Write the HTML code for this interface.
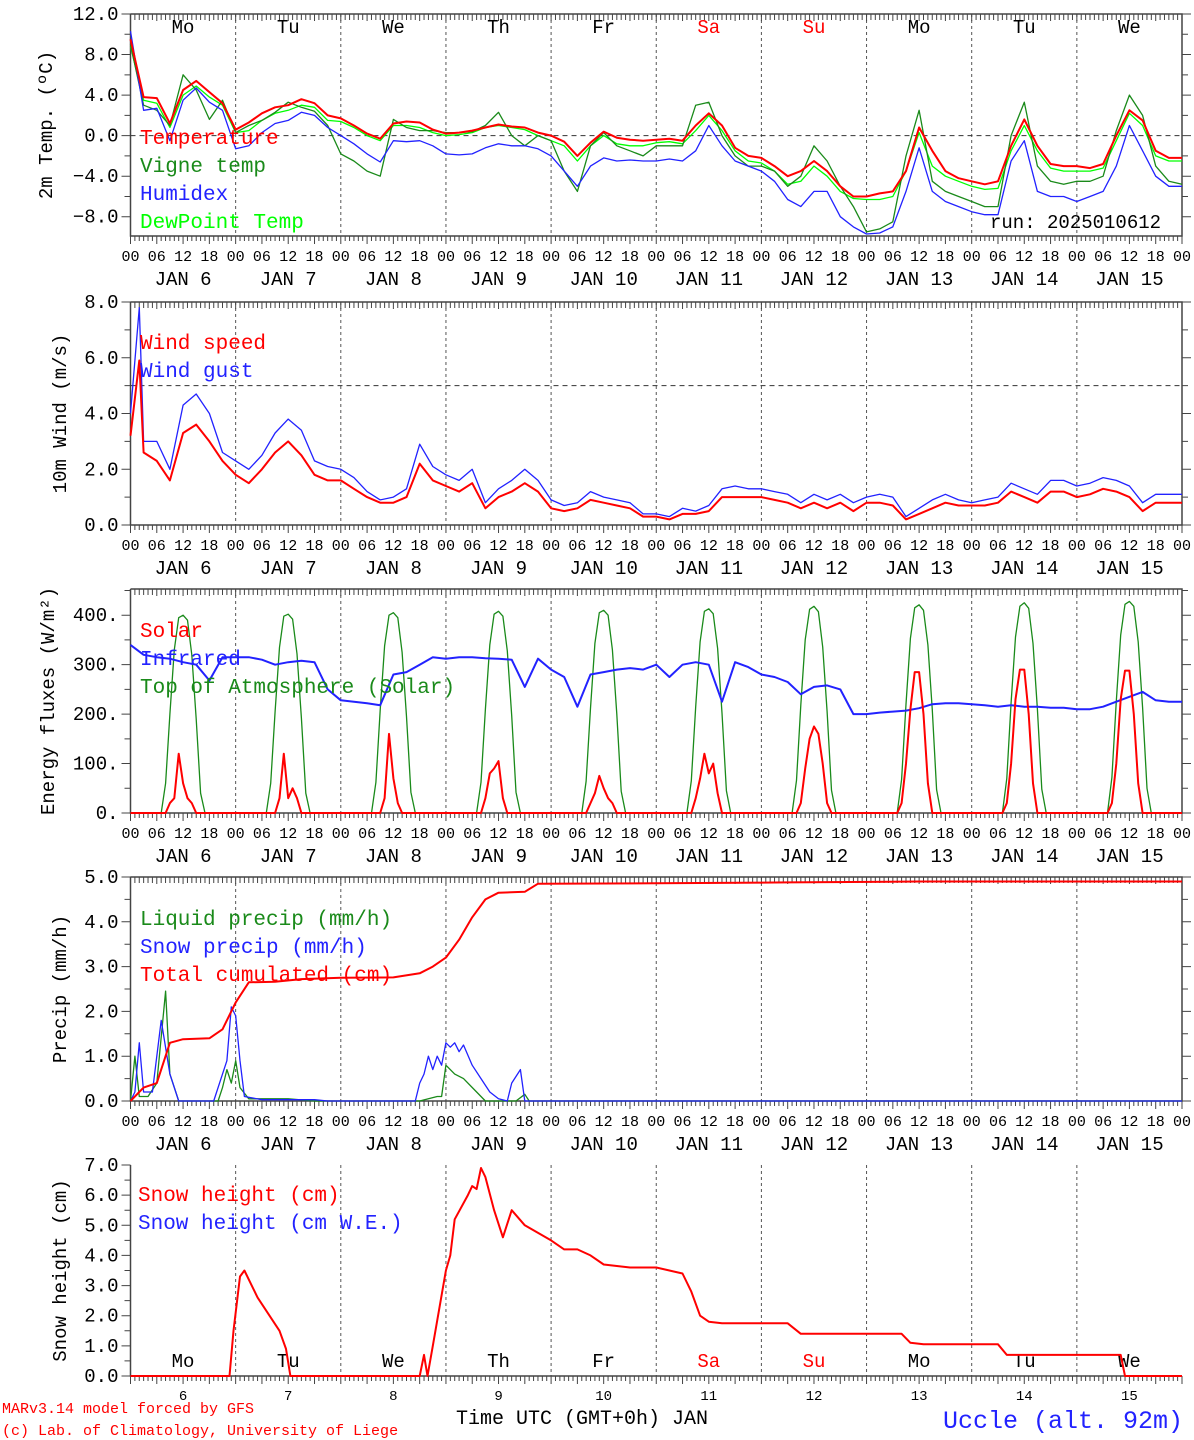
<!DOCTYPE html>
<html><head><meta charset="utf-8">
<style>
html,body{margin:0;padding:0;background:#fff;}
svg{display:block;font-family:"Liberation Mono","DejaVu Sans Mono",monospace;}
</style></head>
<body>
<svg id="chart" width="1194" height="1440" viewBox="0 0 1194 1440" xmlns="http://www.w3.org/2000/svg">
<text x="2" y="1413" font-size="15" fill="#f00">MARv3.14 model forced by GFS</text>
<text x="2" y="1435" font-size="15" fill="#f00">(c) Lab. of Climatology, University of Liege</text>
<text x="456" y="1424" font-size="20" fill="#000">Time UTC (GMT+0h) JAN</text>
<text x="943" y="1428" font-size="25" fill="#22f">Uccle (alt. 92m)</text>
<text x="990" y="228" font-size="19" fill="#000">run: 2025010612</text>
</svg>
<script>
// ---------- DATA ----------
const dayNames = ["Mo","Tu","We","Th","Fr","Sa","Su","Mo","Tu","We"];
const dayNums = [6,7,8,9,10,11,12,13,14,15];
const hourTicks = ["00","06","12","18"];
// 3-hourly series (81 points, hour 0..240)
const temperature = [9.5,3.8,3.7,1.2,4.5,5.4,4.3,3.2, 0.6,1.3,2.2,2.8,3.0,3.6,3.2,2.0, 1.7,1.0,0.2,-0.3,1.2,1.4,1.3,0.6, 0.2,0.3,0.5,0.8,1.1,0.9,0.8,0.3, 0.0,-0.6,-2.0,-0.7,0.4,-0.2,-0.4,-0.5, -0.4,-0.3,-0.5,1.0,2.2,1.0,-1.2,-2.0, -2.2,-3.0,-4.0,-3.5,-2.5,-3.5,-5.0,-6.0, -6.0,-5.7,-5.5,-3.5,0.8,-1.5,-3.5,-4.2, -4.5,-4.8,-4.5,-1.0,1.6,-1.0,-2.8,-3.0, -3.0,-3.2,-2.8,0.0,2.5,1.5,-1.5,-2.2,-2.2];
const vigneTemp = [9.0,3.0,2.5,1.0,6.0,4.5,1.6,3.5, 0.3,1.0,1.5,2.3,3.3,2.8,2.4,1.0, -1.8,-2.5,-3.5,-4.0,1.6,0.8,0.5,0.5, 0.3,0.3,0.4,1.0,2.3,0.0,-1.0,0.0, -0.5,-3.5,-5.5,-1.0,0.3,-1.0,-1.5,-2.0, -1.0,-1.0,-1.0,3.0,3.3,0.0,-2.0,-3.0, -3.0,-3.5,-5.0,-4.0,-1.0,-2.5,-5.0,-7.0, -9.5,-9.2,-8.5,-2.0,2.5,-4.5,-5.5,-6.0, -6.5,-7.0,-7.0,0.0,3.3,-3.0,-4.5,-4.8, -4.5,-4.5,-4.0,0.5,4.0,2.0,-3.0,-4.5,-4.8];
const humidex = [10.3,2.5,2.7,-0.5,3.5,4.7,3.3,2.5, -1.3,-1.0,0.3,1.2,1.5,2.3,2.0,0.8, 0.0,-0.8,-1.8,-2.6,-0.5,-0.6,-0.5,-1.0, -1.8,-1.9,-1.8,-1.2,-0.8,-1.0,-1.0,-1.3, -2.0,-3.5,-5.0,-3.0,-2.2,-2.5,-2.4,-2.5, -2.5,-2.3,-2.5,-1.5,1.0,-1.0,-2.5,-3.0, -3.5,-4.5,-6.3,-7.0,-5.5,-5.5,-8.0,-9.0, -9.7,-9.6,-9.0,-5.5,-1.2,-5.5,-6.5,-7.0, -7.5,-7.8,-7.8,-2.5,-0.5,-5.5,-6.0,-6.0, -6.5,-6.0,-5.5,-3.0,1.0,-1.5,-4.0,-5.0,-5.0];
const dewPoint = [8.8,3.5,3.2,0.8,4.0,4.9,3.8,3.0, 0.3,0.5,1.5,2.2,2.5,3.0,2.8,1.5, 1.4,0.8,0.0,-0.5,1.0,1.0,0.8,0.3, 0.0,0.1,0.3,0.8,1.0,0.8,0.6,0.0, -0.5,-1.0,-2.5,-1.0,0.0,-0.8,-1.0,-1.0, -0.7,-0.6,-0.8,0.5,2.0,0.5,-1.5,-2.5, -2.7,-3.5,-4.8,-4.5,-3.0,-4.0,-5.5,-6.2, -6.3,-6.3,-6.0,-3.5,0.3,-3.0,-4.0,-4.5, -5.0,-5.3,-5.2,-1.5,1.0,-1.5,-3.2,-3.5, -3.5,-3.5,-3.2,-0.5,2.2,1.0,-2.0,-2.5,-2.5];
const windSpeed = [3.2,2.6,2.3,1.6,3.3,3.6,3.0,2.3, 1.8,1.5,2.0,2.6,3.0,2.5,1.8,1.6, 1.6,1.3,1.0,0.8,0.8,1.0,2.2,1.6, 1.4,1.2,1.5,0.6,1.0,1.2,1.5,1.2, 0.6,0.5,0.6,0.9,0.8,0.7,0.6,0.3, 0.3,0.2,0.4,0.4,0.5,1.0,1.0,1.0, 1.0,0.9,0.8,0.6,0.8,0.6,0.8,0.5, 0.8,0.8,0.7,0.2,0.4,0.6,0.8,0.7, 0.7,0.7,0.8,1.2,1.0,0.8,1.2,1.2, 1.0,1.1,1.3,1.2,1.0,0.5,0.8,0.8,0.8];
const windGust = [4.0,3.0,3.0,2.0,4.3,4.7,4.0,2.6, 2.3,2.0,2.5,3.3,3.8,3.4,2.3,2.1, 2.0,1.7,1.2,0.9,1.0,1.3,2.9,2.1, 1.8,1.6,2.0,0.8,1.3,1.6,2.0,1.6, 0.9,0.7,0.8,1.2,1.0,0.9,0.8,0.4, 0.4,0.3,0.6,0.5,0.7,1.3,1.4,1.3, 1.3,1.2,1.1,0.8,1.1,0.9,1.1,0.8, 1.0,1.1,1.0,0.3,0.6,0.9,1.1,0.9, 0.8,0.9,1.0,1.5,1.3,1.1,1.6,1.6, 1.4,1.5,1.7,1.6,1.4,0.8,1.1,1.1,1.1];
const windSpeedPeak = [2, 5.9];
const windGustPeak = [2, 7.8];
const infrared = [340,320,315,312,305,300,268,315, 315,315,310,300,305,308,305,250, 228,225,222,218,280,285,300,315, 312,315,315,313,312,310,255,312, 290,275,215,280,285,290,293,290, 300,275,300,305,300,225,305,295, 280,275,265,240,255,258,250,200, 200,203,205,207,212,220,222,222, 220,218,215,218,215,215,213,213, 210,210,215,225,235,245,228,225,225];
// hourly solar values, hours 7..17 of each day
const toaSolar = [
 [0,60,200,330,395,400,390,320,190,40,0],[0,60,205,335,398,402,392,322,192,40,0],[0,62,208,338,400,405,395,325,195,42,0],
 [0,62,210,340,402,408,398,328,197,42,0],[0,64,212,343,405,410,400,330,200,44,0],[0,65,215,346,408,413,403,333,202,45,0],
 [0,66,218,350,412,418,407,336,205,46,0],[0,68,220,353,415,421,410,340,208,47,0],[0,70,223,356,418,425,414,343,210,48,0],
 [0,72,226,360,422,428,418,346,213,50,0]];
const solar = [
 [0,0,20,30,120,60,30,20,0,0,0],[0,0,0,30,120,30,50,30,0,0,0],[0,0,0,30,160,70,20,0,0,0,0],
 [0,0,30,80,90,105,30,0,0,0,0],[0,0,20,40,75,50,30,20,0,0,0],[0,0,30,70,120,80,100,40,0,0,0],
 [0,0,20,90,150,175,160,100,20,0,0],[0,20,100,210,285,285,200,60,0,0,0],[0,20,100,230,290,290,200,60,0,0,0],
 [0,20,100,230,288,288,200,60,0,0,0]];
// [hour, value] pairs
const totalCum = [[0,0],[3,0.3],[6,0.4],[9,1.3],[12,1.38],[18,1.4],[21,1.6],[24,2.2],[27,2.65],[33,2.66],[39,2.72],[48,2.75],[60,2.76],[66,2.85],[69,3.0],[72,3.2],[75,3.6],[78,4.1],[81,4.5],[84,4.65],[90,4.67],[93,4.85],[120,4.86],[150,4.88],[180,4.9],[240,4.9]];
const liquidPrecip = [[0,0],[1,1.0],[2,0.1],[4,0.1],[6,0.4],[8,2.45],[9,0.6],[11,0],[20,0],[21,0.3],[22,0.7],[23,0.4],[24,0.9],[25,0.3],[27,0.05],[36,0.05],[42,0],[66,0],[68,0.05],[70,0.1],[71,0.1],[72,0.8],[74,0.6],[76,0.5],[79,0.2],[81,0],[88,0],[90,0.15],[91,0],[240,0]];
const snowPrecip = [[0,0],[1,0.2],[2,1.3],[3,0.2],[5,0.2],[7,1.8],[9,0.6],[11,0],[19,0],[21,0.6],[22,0.9],[23,2.1],[24,1.9],[25,0.9],[26,0.1],[30,0.03],[42,0.03],[45,0],[65,0],[66,0.4],[67,0.6],[68,1.0],[69,0.7],[70,1.0],[71,0.8],[72,1.3],[73,1.2],[74,1.3],[75,1.1],[76,1.25],[78,0.8],[80,0.5],[82,0.2],[84,0.05],[86,0],[87,0.4],[89,0.7],[90,0],[240,0]];
const snowHeight = [[0,0],[22.6,0],[23.5,1.5],[25,3.3],[26,3.5],[29,2.6],[34,1.5],[35.5,0.9],[36.5,0],[66,0],[67,0.7],[67.8,0],[69,1.0],[72,3.5],[73,4.0],[74,5.2],[77,6.0],[78,6.3],[79,6.2],[80,6.9],[81,6.6],[83,5.5],[85,4.6],[87,5.5],[90,5.0],[96,4.5],[99,4.2],[102,4.2],[105,4.0],[108,3.7],[114,3.6],[120,3.6],[123,3.5],[126,3.4],[128,2.8],[130,2.0],[132,1.8],[135,1.75],[150,1.75],[153,1.4],[176,1.4],[178,1.1],[181,1.05],[198,1.05],[200,0.7],[226,0.7],[227,0],[240,0]];

// ---------- DRAW ----------
const svg = document.getElementById('chart');
const NS = 'http://www.w3.org/2000/svg';
const X0 = 130.5, X1 = 1182;
const xs = h => X0 + h * (X1 - X0) / 240;
function mk(tag, attrs, parent) {
  const e = document.createElementNS(NS, tag);
  for (const k in attrs) e.setAttribute(k, attrs[k]);
  (parent || svg).appendChild(e);
  return e;
}
function txt(x, y, s, size, fill, anchor, parent) {
  const t = mk('text', {x: x, y: y, 'font-size': size, fill: fill || '#000', 'text-anchor': anchor || 'start'}, parent);
  t.textContent = s;
  return t;
}
function panel(name, top, bot, vmin, vmax, major, minor, fmt, title, opts) {
  const g = mk('g', {});
  
  
  const ys = v => bot - (v - vmin) * (bot - top) / (vmax - vmin);
  for (let d = 1; d < 10; d++) {
    const l = mk('line', {x1: xs(d * 24), x2: xs(d * 24), y1: top, y2: bot, stroke: '#555', 'stroke-dasharray': '3,3', 'stroke-width': 1}, g);
    
    
  }
  const ax = mk('path', {d: opts.noFrame ? `M${X0},${top}V${bot}H${X1}` : `M${X0},${top}V${bot}H${X1}V${top}H${X0}`, fill: 'none', stroke: '#444', 'stroke-width': 1.5}, g);
  
  
  let tp = '';
  const vstart = Math.ceil(vmin / minor - 1e-6) * minor;
  for (let v = vstart; v <= vmax + 1e-6; v += minor) {
    const isMaj = Math.abs(Math.round(v / major) * major - v) < 1e-6;
    const y = ys(v);
    tp += `M${X0},${y}h${isMaj ? -9 : -6}`;
    if (!opts.noFrame) tp += `M${X1},${y}h${isMaj ? 9 : 6}`;
  }
  for (let h = 0; h <= 240; h++) {
    const x = xs(h);
    tp += `M${x},${bot}v${h % 6 === 0 ? 8 : 5}`;
    if (!opts.noFrame) tp += `M${x},${top}v${h % 6 === 0 ? 7 : 6}`;
  }
  mk('path', {d: tp, stroke: '#444', 'stroke-width': 1, fill: 'none'}, g);
  const mstart = Math.ceil(vmin / major - 1e-6) * major;
  for (let v = mstart; v <= vmax + 1e-6; v += major) {
    const t = txt(X0 - 12, ys(v) + 6, fmt(v), 19, '#000', 'end', g);
    
    
  }
  const yt = txt(0, 0, title, 19, '#000', 'middle', g);
  yt.setAttribute('transform', `translate(${opts.titleX},${(top + bot) / 2}) rotate(-90)`);
  
  
  if (!opts.noFrame) {
    for (let d = 0; d < 10; d++) {
      for (let k = 0; k < 4; k++) {
        const t = txt(xs(d * 24 + k * 6), bot + 25, hourTicks[k], 15, '#000', 'middle', g);
        
        
      }
      const j = txt(xs(d * 24 + 12), bot + 49, 'JAN  ' + dayNums[d], 19, '#000', 'middle', g);
      
      
    }
    const t = txt(xs(240), bot + 25, '00', 15, '#000', 'middle', g);
    
    
  }
  return {g: g, ys: ys};
}
function line3h(p, arr, color, w, name) {
  const pts = arr.map((v, i) => `${xs(i * 3).toFixed(1)},${p.ys(v).toFixed(1)}`).join(' ');
  const l = mk('polyline', {points: pts, fill: 'none', stroke: color, 'stroke-width': w, 'stroke-linejoin': 'round'}, p.g);
  
  
  return l;
}
function linePairs(p, arr, color, w, name) {
  const pts = arr.map(q => `${xs(q[0]).toFixed(1)},${p.ys(q[1]).toFixed(1)}`).join(' ');
  const l = mk('polyline', {points: pts, fill: 'none', stroke: color, 'stroke-width': w, 'stroke-linejoin': 'round'}, p.g);
  
  
  return l;
}
function lineDaily(p, rows, color, w, name) {
  const pts = [];
  pts.push([0, 0]);
  rows.forEach((r, d) => r.forEach((v, k) => pts.push([d * 24 + 7 + k, v])));
  pts.push([240, 0]);
  return linePairs(p, pts, color, w, name);
}
function legend(p, items, x, y0, dy) {
  items.forEach((it, i) => {
    const t = txt(x, y0 + i * dy, it[0], 21, it[1], 'start', p.g);
    
    
  });
}
function hdash(p, v) {
  const l = mk('line', {x1: X0, x2: X1, y1: p.ys(v), y2: p.ys(v), stroke: '#333', 'stroke-dasharray': '5,4', 'stroke-width': 1}, p.g);
  
  
}
const f1 = v => v.toFixed(1).replace('-', '\u2212');

// Panel 1
const p1 = panel('temperature-panel', 14, 236, -9.9, 12, 4, 2, f1, '2m Temp. (\u00baC)', {titleX: 52});
hdash(p1, 0);
dayNames.forEach((n, d) => {
  const t = txt(xs(d * 24 + 12), 33, n, 19, (n === 'Sa' || n === 'Su') ? '#f00' : '#000', 'middle', p1.g);
  
  
});
line3h(p1, dewPoint, '#0f0', 1.3, 'dewpoint-line');
line3h(p1, vigneTemp, '#1a8a1a', 1.3, 'vigne-temp-line');
line3h(p1, humidex, '#22f', 1.3, 'humidex-line');
line3h(p1, temperature, '#f00', 2, 'temperature-line');
legend(p1, [['Temperature', '#f00'], ['Vigne temp', '#1a8a1a'], ['Humidex', '#22f'], ['DewPoint Temp', '#0f0']], 140, 144, 28);

// Panel 2
const p2 = panel('wind-panel', 302, 525, 0, 8, 2, 1, f1, '10m Wind (m/s)', {titleX: 66});
hdash(p2, 5);
{
  const gp = [[0, windGust[0]], windGustPeak].concat(windGust.slice(1).map((v, i) => [(i + 1) * 3, v]));
  const sp = [[0, windSpeed[0]], windSpeedPeak].concat(windSpeed.slice(1).map((v, i) => [(i + 1) * 3, v]));
  linePairs(p2, gp, '#22f', 1.3, 'wind-gust-line');
  linePairs(p2, sp, '#f00', 2, 'wind-speed-line');
}
legend(p2, [['Wind speed', '#f00'], ['Wind gust', '#22f']], 140, 349, 28);

// Panel 3
const p3 = panel('energy-panel', 589, 813, 0, 453, 100, 50, v => v.toFixed(0) + '.', 'Energy fluxes (W/m\u00b2)', {titleX: 54});
lineDaily(p3, toaSolar, '#1a8a1a', 1.3, 'toa-solar-line');
line3h(p3, infrared, '#22f', 2, 'infrared-line');
lineDaily(p3, solar, '#f00', 2, 'solar-line');
legend(p3, [['Solar', '#f00'], ['Infrared', '#22f'], ['Top of Atmosphere (Solar)', '#1a8a1a']], 140, 637, 28);

// Panel 4
const p4 = panel('precip-panel', 877, 1101, 0, 5, 1, 0.5, f1, 'Precip (mm/h)', {titleX: 66});
linePairs(p4, liquidPrecip, '#1a8a1a', 1.3, 'liquid-precip-line');
linePairs(p4, snowPrecip, '#22f', 1.3, 'snow-precip-line');
linePairs(p4, totalCum, '#f00', 2, 'total-cumulated-line');
legend(p4, [['Liquid precip (mm/h)', '#1a8a1a'], ['Snow precip (mm/h)', '#22f'], ['Total cumulated (cm)', '#f00']], 140, 925, 28);

// Panel 5
const p5 = panel('snow-panel', 1165, 1376, 0, 7, 1, 0.5, f1, 'Snow height (cm)', {titleX: 66, noFrame: true});
dayNames.forEach((n, d) => {
  const t = txt(xs(d * 24 + 12), 1367, n, 19, (n === 'Sa' || n === 'Su') ? '#f00' : '#000', 'middle', p5.g);
  
  
  const t2 = txt(xs(d * 24 + 12), 1400, String(dayNums[d]), 14, '#000', 'middle', p5.g);
  
  
});
linePairs(p5, snowHeight, '#f00', 2, 'snow-height-line');
legend(p5, [['Snow height (cm)', '#f00'], ['Snow height (cm W.E.)', '#22f']], 138, 1201, 28);
</script>
</body></html>
